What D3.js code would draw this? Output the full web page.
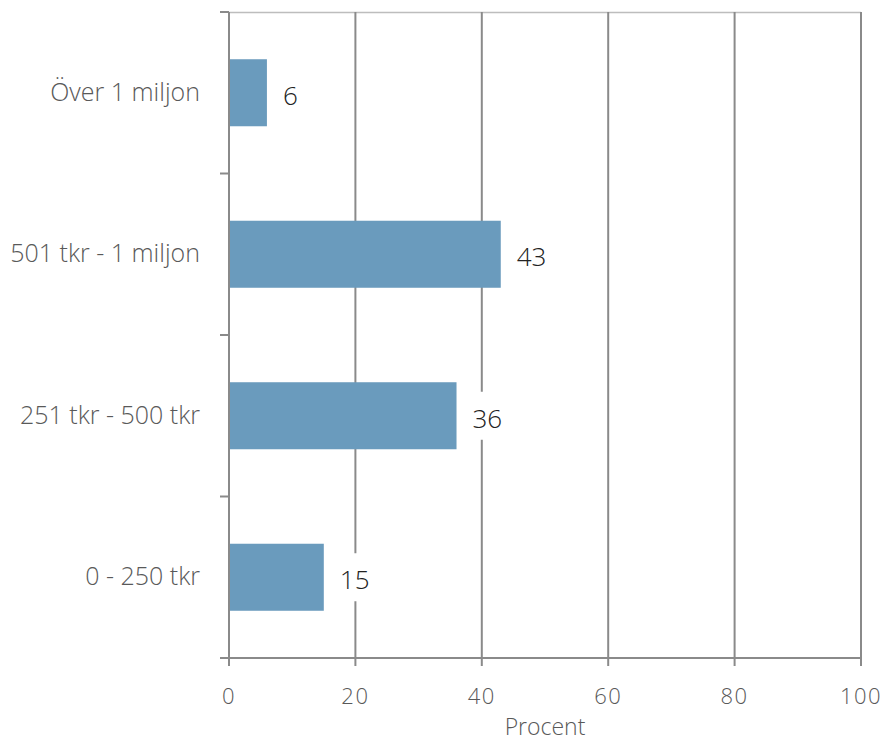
<!DOCTYPE html>
<html><head><meta charset="utf-8">
<script src="https://cdn.jsdelivr.net/npm/d3@7"></script>
<style>
body{margin:0;background:#fff;}
text{font-family:"Open Sans","Lato",sans-serif;font-weight:300;}
</style></head>
<body><svg id="c" width="881" height="742"></svg>
<script>
const categories = ["Över 1 miljon","501 tkr - 1 miljon","251 tkr - 500 tkr","0 - 250 tkr"];
const values = [6,43,36,15];
const xTicks = [0,20,40,60,80,100];
const xTitle = "Procent";

const svg = d3.select("#c");
const m = {l:229,r:861,t:12,b:658};
const x = d3.scaleLinear().domain([0,100]).range([m.l,m.r]);
const y = d3.scaleBand().domain(categories).range([m.t,m.b]).paddingInner(0.585).paddingOuter(0.2925);
const grid="#8a8a8a";

// top border
svg.append("line").attr("x1",m.l).attr("x2",m.r).attr("y1",m.t+0.5).attr("y2",m.t+0.5).attr("stroke","#bdbdbd").attr("stroke-width",1.5);
// vertical gridlines
svg.selectAll(".g").data(xTicks.slice(1)).join("line")
  .attr("x1",d=>x(d)).attr("x2",d=>x(d)).attr("y1",m.t).attr("y2",m.b+8)
  .attr("stroke",grid).attr("stroke-width",2);

// bars
svg.selectAll(".bar").data(values).join("rect")
  .attr("x",x(0)).attr("y",(d,i)=>y(categories[i]))
  .attr("width",d=>x(d)-x(0)).attr("height",y.bandwidth())
  .attr("fill","#6a9bbd");

// left axis
svg.append("line").attr("x1",m.l).attr("x2",m.l).attr("y1",m.t).attr("y2",m.b+8).attr("stroke",grid).attr("stroke-width",2);
const step = (m.b-m.t)/categories.length;
const yTickPos = d3.range(categories.length+1).map(i=>m.t+i*step);
svg.selectAll(".yt").data(yTickPos).join("line")
  .attr("x1",m.l-9).attr("x2",m.l).attr("y1",d=>d).attr("y2",d=>d).attr("stroke",grid).attr("stroke-width",2);
// bottom axis
svg.append("line").attr("x1",m.l-9).attr("x2",m.r).attr("y1",m.b).attr("y2",m.b).attr("stroke",grid).attr("stroke-width",2);

// category labels
svg.selectAll(".cl").data(categories).join("text")
  .attr("x",200).attr("y",d=>y(d)+y.bandwidth()/2-1).attr("dy","0.35em")
  .attr("text-anchor","end").attr("font-size",25).attr("fill","#595959").text(d=>d);

// x tick labels
svg.selectAll(".xl").data(xTicks).join("text")
  .attr("x",d=>x(d)).attr("y",704).attr("text-anchor","middle")
  .attr("font-size",22).attr("fill","#595959").attr("letter-spacing",1.5).text(d=>d);
svg.append("text").attr("x",545).attr("y",735).attr("text-anchor","middle")
  .attr("font-size",23).attr("fill","#595959").text(xTitle);

// data labels with white box
const lab = svg.selectAll(".dl").data(values).join("g")
  .attr("transform",(d,i)=>`translate(${x(d)+10},${y(categories[i])+y.bandwidth()/2})`);
lab.append("rect").attr("x",0).attr("y",-24).attr("height",48)
  .attr("width",d=>String(d).length*15+14).attr("fill","#fff");
lab.append("text").attr("x",6).attr("y",3).attr("dy","0.35em")
  .attr("font-size",26).attr("fill","#222").text(d=>d);
</script></body></html>
